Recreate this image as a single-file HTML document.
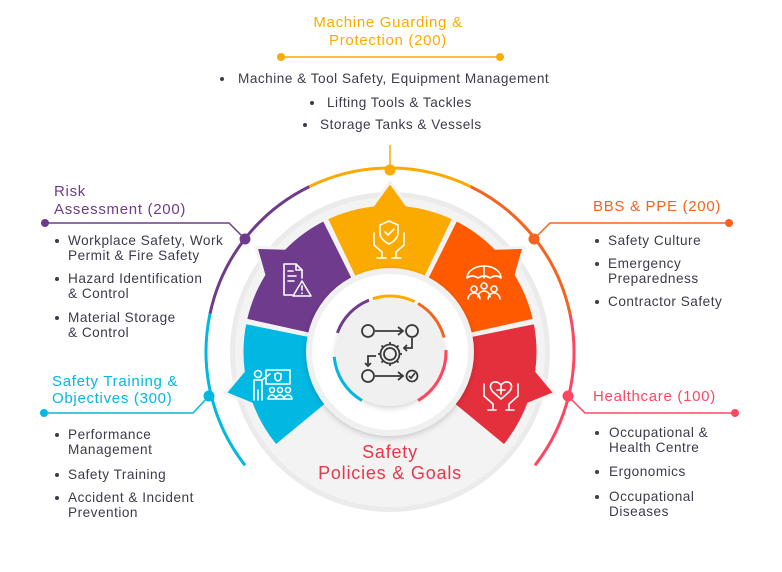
<!DOCTYPE html>
<html><head><meta charset="utf-8"><style>
html,body{margin:0;padding:0;background:#fff;}
svg{display:block;font-family:"Liberation Sans",sans-serif;}
.t{font-size:13.6px;fill:#3b3b4b;letter-spacing:0.5px;}
.h{font-size:15px;letter-spacing:0.7px;}
</style></head><body>
<svg id="s" width="782" height="572" viewBox="0 0 782 572" xmlns="http://www.w3.org/2000/svg">
<defs>
<filter id="sh" x="-20%" y="-20%" width="140%" height="140%"><feDropShadow dx="0" dy="2" stdDeviation="3" flood-color="#000" flood-opacity="0.18"/></filter>
</defs>
<g id="rings"></g>
<circle cx="390" cy="352" r="160" fill="#ebebeb"/>
<circle cx="390" cy="352" r="155" fill="#f3f3f3"/>
<g id="wedges"></g>
<circle cx="390" cy="352" r="84" fill="#f0f0f0" filter="url(#sh)"/>
<circle cx="390" cy="352" r="78" fill="#fff"/>
<circle cx="390" cy="352" r="54" fill="#f0f0f0" filter="url(#sh)"/>
<g id="inner"></g>
<g stroke="#3a3a3a" stroke-width="1.8" fill="none">
<circle cx="368" cy="331" r="6"/><circle cx="412" cy="331" r="6"/>
<circle cx="368" cy="376" r="6"/><circle cx="412" cy="376" r="5.5"/>
<path d="M375 331 H402 M398 327 L403 331 L398 335"/>
<path d="M375 376 H402 M398 372 L403 376 L398 380"/>
<path d="M412 338 V348 H404 M407 345 L404 348 L407 351"/>
<path d="M376 356 H368 V366 M365 363 L368 366 L371 363"/>
<circle cx="390" cy="354" r="6"/>
<path d="M390 342 V345 M390 363 V366 M378 354 H381 M399 354 H402 M381.5 345.5 L383.5 347.5 M398.5 345.5 L396.5 347.5 M381.5 362.5 L383.5 360.5 M398.5 362.5 L396.5 360.5"/>
<circle cx="390" cy="354" r="9.5"/>
<path d="M409 376 L411 378 L415 373"/>
</g>
<g stroke="#fff" stroke-width="1.6" fill="none" stroke-linecap="round" stroke-linejoin="round">
<path d="M389 221 L380 225 V233 C380 240 389 244 389 244 C389 244 398 240 398 233 V225 Z"/>
<path d="M385 232 L388 235 L394 229"/>
<path d="M374 233 V245 L382 252 V258 M404 233 V245 L396 252 V258 M377 258 H386 M392 258 H401"/>
<path d="M467 278 A17 12 0 0 1 501 278 Q496 274 490 278 Q484 274 478 278 Q472 274 467 278 Z M484 266 V278"/>
<circle cx="484" cy="286" r="3"/><circle cx="474" cy="289" r="3"/><circle cx="494" cy="289" r="3"/>
<path d="M478 297 A6 6 0 0 1 490 297 M468 299 A6 6 0 0 1 480 299 M488 299 A6 6 0 0 1 500 299"/>
<path d="M501 385 C495 378 486 384 493 392 L501 399 L509 392 C516 384 507 378 501 385 Z"/>
<path d="M501 386 V394 M497 390 H505"/>
<path d="M484 384 V396 L493 404 V410 M518 384 V396 L509 404 V410 M488 410 H496 M506 410 H514"/>
<circle cx="258" cy="374" r="3.5"/>
<path d="M254 380 V400 M262 380 V400 M258 390 V400 M254 380 H262 L270 374"/>
<rect x="266" y="370" width="24" height="14"/>
<path d="M275 374 L278 373 L281 374 V378 C281 380 278 381 278 381 C278 381 275 380 275 378 Z"/>
<circle cx="272" cy="390" r="2.5"/><circle cx="280" cy="390" r="2.5"/><circle cx="288" cy="390" r="2.5"/>
<path d="M268 399 A4 4 0 0 1 276 399 Z M276 399 A4 4 0 0 1 284 399 Z M284 399 A4 4 0 0 1 292 399 Z"/>
<path d="M284 264 H296 L302 270 V278 M284 264 V295 H292"/>
<path d="M296 264 V270 H302 M288 271 H293 M288 276 H296 M288 281 H294"/>
<path d="M302 281 L311 296 H293 Z M302 286 V290 M302 293 V293.5"/>
</g>
<text x="390" y="458" text-anchor="middle" font-size="18" letter-spacing="0.8" fill="#e8374a">Safety</text>
<text x="390" y="479" text-anchor="middle" font-size="18" letter-spacing="0.8" fill="#e8374a">Policies &amp; Goals</text>

<g fill="none" stroke-width="1.5">
<path d="M281 57 H500" stroke="#fbab00"/><path d="M390 145 V170" stroke="#fbab00"/>
<path d="M45 223 H229 L245 239" stroke="#6f3b8c"/>
<path d="M44 413 H193 L209 396" stroke="#00b8e0"/>
<path d="M729 223 H550 L534 239" stroke="#f5641e"/>
<path d="M735 413 H585 L568 396" stroke="#ff4660"/>
</g>
<g>
<circle cx="281" cy="57" r="4" fill="#fbab00"/><circle cx="500" cy="57" r="4" fill="#fbab00"/>
<circle cx="390" cy="170" r="5.5" fill="#fbab00"/>
<circle cx="45" cy="223" r="4" fill="#6f3b8c"/><circle cx="245" cy="239" r="5.5" fill="#6f3b8c"/>
<circle cx="44" cy="413" r="4" fill="#00b8e0"/><circle cx="209" cy="396" r="5.5" fill="#00b8e0"/>
<circle cx="729" cy="223" r="4" fill="#f5641e"/><circle cx="534" cy="239" r="5.5" fill="#f5641e"/>
<circle cx="735" cy="413" r="4" fill="#ff4660"/><circle cx="568" cy="396" r="5.5" fill="#ff4660"/>
</g>

<text x="388" y="27" text-anchor="middle" class="h" fill="#fbab00">Machine Guarding &amp;</text>
<text x="388" y="45" text-anchor="middle" class="h" fill="#fbab00">Protection (200)</text>
<circle cx="222" cy="79" r="2" fill="#3b3b4b"/><text x="238" y="83" class="t">Machine &amp; Tool Safety, Equipment Management</text>
<circle cx="312" cy="103" r="2" fill="#3b3b4b"/><text x="327" y="107" class="t">Lifting Tools &amp; Tackles</text>
<circle cx="305" cy="125" r="2" fill="#3b3b4b"/><text x="320" y="129" class="t">Storage Tanks &amp; Vessels</text>

<text x="54" y="196" class="h" fill="#6f3b8c">Risk</text>
<text x="54" y="214" class="h" fill="#6f3b8c">Assessment (200)</text>
<circle cx="57" cy="241" r="2" fill="#3b3b4b"/><text x="68" y="245" class="t">Workplace Safety, Work</text><text x="68" y="260" class="t">Permit &amp; Fire Safety</text>
<circle cx="57" cy="279" r="2" fill="#3b3b4b"/><text x="68" y="283" class="t">Hazard Identification</text><text x="68" y="298" class="t">&amp; Control</text>
<circle cx="57" cy="318" r="2" fill="#3b3b4b"/><text x="68" y="322" class="t">Material Storage</text><text x="68" y="337" class="t">&amp; Control</text>

<text x="52" y="386" class="h" fill="#00b8e0">Safety Training &amp;</text>
<text x="52" y="403" class="h" fill="#00b8e0">Objectives (300)</text>
<circle cx="57" cy="435" r="2" fill="#3b3b4b"/><text x="68" y="439" class="t">Performance</text><text x="68" y="454" class="t">Management</text>
<circle cx="57" cy="475" r="2" fill="#3b3b4b"/><text x="68" y="479" class="t">Safety Training</text>
<circle cx="57" cy="498" r="2" fill="#3b3b4b"/><text x="68" y="502" class="t">Accident &amp; Incident</text><text x="68" y="517" class="t">Prevention</text>

<text x="593" y="211" class="h" fill="#f5641e">BBS &amp; PPE (200)</text>
<circle cx="597" cy="241" r="2" fill="#3b3b4b"/><text x="608" y="245" class="t">Safety Culture</text>
<circle cx="597" cy="264" r="2" fill="#3b3b4b"/><text x="608" y="268" class="t">Emergency</text><text x="608" y="283" class="t">Preparedness</text>
<circle cx="597" cy="302" r="2" fill="#3b3b4b"/><text x="608" y="306" class="t">Contractor Safety</text>

<text x="593" y="401" class="h" fill="#ff4660">Healthcare (100)</text>
<circle cx="597" cy="433" r="2" fill="#3b3b4b"/><text x="609" y="437" class="t">Occupational &amp;</text><text x="609" y="452" class="t">Health Centre</text>
<circle cx="597" cy="472" r="2" fill="#3b3b4b"/><text x="609" y="476" class="t">Ergonomics</text>
<circle cx="597" cy="497" r="2" fill="#3b3b4b"/><text x="609" y="501" class="t">Occupational</text><text x="609" y="516" class="t">Diseases</text>
</svg>
<script>
(function(){
var cx=390,cy=352,NS="http://www.w3.org/2000/svg";
function P(a,r){var t=a*Math.PI/180;return [(cx+r*Math.sin(t)).toFixed(2),(cy-r*Math.cos(t)).toFixed(2)];}
function arc(a1,a2,r){var p1=P(a1,r),p2=P(a2,r);return "M"+p1+" A"+r+" "+r+" 0 "+((a2-a1)>180?1:0)+" 1 "+p2;}
function add(g,tag,at){var e=document.createElementNS(NS,tag);for(var k in at)e.setAttribute(k,at[k]);document.getElementById(g).appendChild(e);}
var R=184;
[[-128,-78,"#00b8e0"],[-78,-26,"#6f3b8c"],[-26,26,"#fbab00"],[26,78,"#f5641e"],[78,128,"#ff4660"]].forEach(function(s){
 add("rings","path",{d:arc(s[0],s[1],R),fill:"none",stroke:s[2],"stroke-width":3});});
[[0,"#fbab00"],[52,"#ff5a00"],[104,"#e3303c"],[-104,"#00b8e2"],[-52,"#6f3b8c"]].forEach(function(w){
 var m=w[0],h=25.5,ro=148,bw=6.5,rt=170;
 var d="M"+cx+","+cy+" L"+P(m-h,ro)+" A"+ro+" "+ro+" 0 0 1 "+P(m-bw,ro)+" L"+P(m,rt)+" L"+P(m+bw,ro)+" A"+ro+" "+ro+" 0 0 1 "+P(m+h,ro)+" Z";
 add("wedges","path",{d:d,fill:w[1],stroke:"#f3f3f3","stroke-width":3,"stroke-linejoin":"miter"});});
[[-70,-22,"#6f3b8c"],[-18,26,"#fbab00"],[30,75,"#f5641e"],[88,150,"#ff4660"],[-150,-95,"#00b8e0"]].forEach(function(s){
 add("inner","path",{d:arc(s[0],s[1],56),fill:"none",stroke:s[2],"stroke-width":3});});
})();
</script>
</body></html>
